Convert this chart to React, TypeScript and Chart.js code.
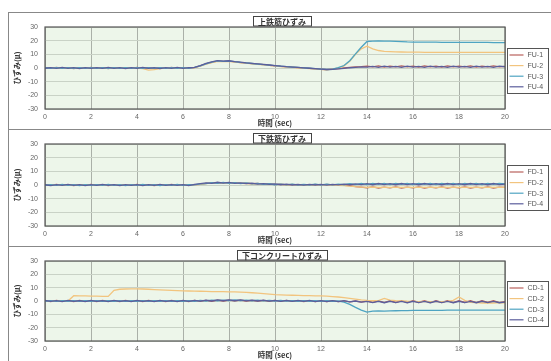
import React, { useEffect, useRef } from 'react';
import { Chart, registerables } from 'chart.js';
Chart.register(...registerables);

// time axis (sec), 0.25 s steps
const time = [
  0, 0.25, 0.5, 0.75, 1, 1.25, 1.5, 1.75,
  2, 2.25, 2.5, 2.75, 3, 3.25, 3.5, 3.75,
  4, 4.25, 4.5, 4.75, 5, 5.25, 5.5, 5.75,
  6, 6.25, 6.5, 6.75, 7, 7.25, 7.5, 7.75,
  8, 8.25, 8.5, 8.75, 9, 9.25, 9.5, 9.75,
  10, 10.25, 10.5, 10.75, 11, 11.25, 11.5, 11.75,
  12, 12.25, 12.5, 12.75, 13, 13.25, 13.5, 13.75,
  14, 14.25, 14.5, 14.75, 15, 15.25, 15.5, 15.75,
  16, 16.25, 16.5, 16.75, 17, 17.25, 17.5, 17.75,
  18, 18.25, 18.5, 18.75, 19, 19.25, 19.5, 19.75,
  20,
];

const xTicks = [0, 2, 4, 6, 8, 10, 12, 14, 16, 18, 20];
const yTicks = [-30, -20, -10, 0, 10, 20, 30];

// ---- 上鉄筋ひずみ ----
const fuLabels = ['FU-1', 'FU-2', 'FU-3', 'FU-4'];
const fu1 = [
  0.3, -0.3, 0.4, -0.2, 0.3, -0.4, 0.2, -0.3,
  0.4, -0.2, 0.3, -0.4, 0.2, -0.3, 0.3, -0.2,
  0.4, -0.3, 0.2, -0.4, 0.3, -0.2, 0.4, -0.3,
  0.2, -0.3, 0.3, 1.5, 3.0, 4.2, 5.0, 4.8,
  5.0, 4.5, 4.0, 3.6, 3.2, 2.8, 2.4, 2.0,
  1.6, 1.2, 0.9, 0.6, 0.3, 0.0, -0.3, -0.6,
  -0.9, -1.2, -0.8, -0.4, 0.0, 0.4, 0.8, 1.0,
  1.4, 0.8, 1.5, 0.7, 1.4, 0.8, 1.5, 0.8,
  1.4, 0.7, 1.5, 0.8, 1.4, 0.7, 1.5, 0.8,
  1.4, 0.8, 1.5, 0.7, 1.4, 0.8, 1.5, 0.8,
  1.2,
];
const fu2 = [
  0.1, -0.2, 0.2, -0.1, 0.1, -0.2, 0.1, -0.1,
  0.2, -0.1, 0.1, -0.2, 0.1, -0.1, 0.2, -0.1,
  0.0, -0.5, -1.5, -1.2, -0.5, -0.1, 0.1, -0.1,
  0.1, -0.1, 0.2, 1.4, 2.8, 4.0, 4.8, 4.6,
  4.8, 4.3, 3.9, 3.5, 3.1, 2.7, 2.3, 1.9,
  1.5, 1.1, 0.8, 0.5, 0.2, -0.1, -0.4, -0.7,
  -1.0, -1.3, -0.9, 0.0, 1.5, 5.0, 10.0, 14.0,
  16.0, 14.0, 12.8, 12.2, 12.0, 11.8, 11.7, 11.6,
  11.6, 11.6, 11.5, 11.5, 11.5, 11.5, 11.5, 11.5,
  11.5, 11.5, 11.4, 11.4, 11.4, 11.4, 11.4, 11.4,
  11.4,
];
const fu3 = [
  0.2, -0.2, 0.3, -0.3, 0.2, -0.2, 0.3, -0.3,
  0.2, -0.2, 0.3, -0.3, 0.2, -0.2, 0.3, -0.3,
  0.2, -0.2, 0.3, -0.3, 0.2, -0.2, 0.3, -0.3,
  0.2, -0.2, 0.4, 1.6, 3.1, 4.3, 5.2, 4.9,
  5.1, 4.6, 4.1, 3.7, 3.3, 2.9, 2.5, 2.1,
  1.7, 1.3, 1.0, 0.7, 0.4, 0.1, -0.2, -0.5,
  -0.8, -1.1, -0.9, 0.2, 1.8, 5.3, 10.3, 15.2,
  19.4, 19.7, 19.8, 19.7, 19.6, 19.5, 19.3, 19.1,
  19.0, 19.0, 18.9, 18.9, 18.9, 18.8, 18.8, 18.8,
  18.8, 18.8, 18.7, 18.7, 18.7, 18.7, 18.6, 18.6,
  18.5,
];
const fu4 = [
  -0.2, 0.3, -0.3, 0.4, -0.2, 0.3, -0.4, 0.2,
  -0.3, 0.3, -0.2, 0.4, -0.3, 0.2, -0.4, 0.3,
  -0.2, 0.4, -0.3, 0.2, -0.4, 0.3, -0.2, 0.4,
  -0.3, 0.2, 0.5, 1.8, 3.3, 4.5, 5.4, 5.0,
  5.3, 4.7, 4.3, 3.8, 3.4, 3.0, 2.6, 2.2,
  1.8, 1.4, 1.0, 0.7, 0.4, 0.1, -0.2, -0.5,
  -0.8, -1.1, -1.0, -0.6, -0.2, 0.2, 0.5, 0.8,
  0.6, 1.2, 0.5, 1.3, 0.6, 1.2, 0.5, 1.3,
  0.6, 1.2, 0.5, 1.3, 0.6, 1.2, 0.5, 1.3,
  0.6, 1.2, 0.5, 1.3, 0.6, 1.2, 0.5, 1.3,
  0.9,
];

// ---- 下鉄筋ひずみ ----
const fdLabels = ['FD-1', 'FD-2', 'FD-3', 'FD-4'];
const fd1 = [
  0.3, -0.3, 0.4, -0.2, 0.3, -0.4, 0.2, -0.3,
  0.4, -0.2, 0.3, -0.4, 0.2, -0.3, 0.3, -0.2,
  0.4, -0.3, 0.2, -0.4, 0.3, -0.2, 0.4, -0.3,
  0.2, -0.3, 0.3, 0.4, 1.2, 1.6, 1.3, 1.8,
  1.4, 1.7, 1.2, 1.4, 0.9, 1.2, 0.6, 0.9,
  0.3, 0.6, 0.0, 0.4, -0.2, 0.3, -0.1, 0.4,
  -0.1, 0.4, 0.0, 0.3, -0.3, -0.5, -1.2, -1.6,
  -2.0, -1.4, -2.2, -1.5, -2.1, -1.4, -2.2, -1.5,
  -2.1, -1.4, -2.2, -1.5, -2.1, -1.4, -2.2, -1.5,
  -2.1, -1.4, -2.2, -1.5, -2.1, -1.4, -2.2, -1.5,
  -1.8,
];
const fd2 = [
  0.1, -0.1, 0.2, -0.1, 0.1, -0.2, 0.1, -0.1,
  0.2, -0.1, 0.1, -0.2, 0.1, -0.1, 0.2, -0.1,
  0.1, -0.2, 0.1, -0.1, 0.2, -0.1, 0.1, -0.2,
  0.1, -0.1, 0.2, 0.5, 1.0, 1.4, 1.5, 1.6,
  1.5, 1.4, 1.2, 1.1, 0.9, 0.8, 0.6, 0.5,
  0.4, 0.3, 0.2, 0.2, 0.1, 0.1, 0.0, 0.0,
  0.0, 0.0, -0.1, -0.2, -0.4, -0.8, -1.2, -1.5,
  -1.7, -1.6, -1.8, -1.7, -1.8, -1.7, -1.8, -1.7,
  -1.8, -1.7, -1.8, -1.7, -1.8, -1.7, -1.8, -1.7,
  -1.8, -1.7, -1.8, -1.7, -1.8, -1.7, -1.8, -1.7,
  -1.7,
];
const fd3 = [
  -0.2, 0.3, -0.3, 0.4, -0.2, 0.3, -0.4, 0.2,
  -0.3, 0.3, -0.2, 0.4, -0.3, 0.2, -0.4, 0.3,
  -0.2, 0.4, -0.3, 0.2, -0.4, 0.3, -0.2, 0.4,
  -0.3, 0.2, 0.1, 0.8, 1.0, 1.7, 1.2, 1.9,
  1.2, 1.8, 1.0, 1.5, 0.8, 1.2, 0.5, 0.9,
  0.2, 0.7, 0.1, 0.6, 0.0, 0.5, 0.0, 0.6,
  0.0, 0.6, 0.1, 0.7, 0.2, 0.9, 0.3, 1.1,
  0.3, 1.2, 0.4, 1.2, 0.3, 1.2, 0.4, 1.2,
  0.3, 1.2, 0.4, 1.2, 0.3, 1.2, 0.4, 1.2,
  0.3, 1.2, 0.4, 1.2, 0.3, 1.2, 0.4, 1.2,
  0.8,
];
const fd4 = [
  0.2, -0.4, 0.3, -0.3, 0.4, -0.2, 0.3, -0.4,
  0.2, -0.3, 0.4, -0.2, 0.3, -0.4, 0.2, -0.3,
  0.3, -0.4, 0.2, -0.3, 0.4, -0.2, 0.3, -0.3,
  0.2, -0.4, 0.4, 1.0, 1.5, 1.2, 2.0, 1.4,
  1.9, 1.2, 1.6, 1.0, 1.3, 0.7, 1.0, 0.4,
  0.8, 0.2, 0.6, 0.0, 0.5, -0.1, 0.5, 0.0,
  0.4, -0.1, 0.5, 0.1, 0.6, 0.2, 0.8, 0.3,
  1.0, 0.2, 1.1, 0.3, 1.0, 0.2, 1.1, 0.3,
  1.0, 0.2, 1.1, 0.3, 1.0, 0.2, 1.1, 0.3,
  1.0, 0.2, 1.1, 0.3, 1.0, 0.2, 1.1, 0.3,
  0.6,
];

// ---- 下コンクリートひずみ ----
const cdLabels = ['CD-1', 'CD-2', 'CD-3', 'CD-4'];
const cd1 = [
  0.3, -0.4, 0.4, -0.3, 0.3, -0.5, 0.4, -0.3,
  0.3, -0.4, 0.4, -0.3, 0.3, -0.5, 0.4, -0.3,
  0.3, -0.4, 0.4, -0.3, 0.3, -0.5, 0.4, -0.3,
  0.3, -0.4, 0.4, -0.2, 0.5, -0.2, 0.6, 0.0,
  0.7, 0.1, 0.6, 0.0, 0.5, -0.1, 0.5, -0.2,
  0.4, -0.3, 0.4, -0.3, 0.3, -0.4, 0.3, -0.4,
  0.3, -0.4, 0.2, -0.5, 0.1, -0.6, 0.0, -0.8,
  0.0, -1.0, 0.1, -1.2, 0.2, -1.1, 0.3, -1.2,
  0.2, -1.1, 0.3, -1.2, 0.2, -1.1, 0.3, -1.2,
  0.2, -1.1, 0.3, -1.2, 0.2, -1.1, 0.3, -1.2,
  -0.4,
];
const cd2 = [
  0.0, -0.1, 0.1, 0.0, 0.0, 4.0, 3.9, 3.8,
  3.7, 3.6, 3.5, 3.4, 8.0, 8.8, 9.0, 9.1,
  9.1, 9.0, 8.8, 8.6, 8.4, 8.2, 8.0, 7.8,
  7.6, 7.5, 7.4, 7.3, 7.2, 7.1, 7.0, 7.0,
  6.9, 6.8, 6.7, 6.5, 6.2, 5.9, 5.6, 5.2,
  4.8, 4.6, 4.4, 4.3, 4.2, 4.1, 4.0, 3.9,
  3.8, 3.6, 3.3, 3.0, 2.6, 2.0, 1.4, 0.8,
  0.4, 0.2, 0.3, 2.0, 0.6, 0.2, 0.0, -0.2,
  -0.3, -0.4, -0.3, -0.5, -0.4, -0.5, -0.3, 0.5,
  3.0, 0.5, -1.0, -1.2, -1.5, -1.3, -1.5, -1.2,
  -1.3,
];
const cd3 = [
  -0.2, 0.3, -0.3, 0.2, -0.2, 0.3, -0.3, 0.2,
  -0.2, 0.3, -0.3, 0.2, -0.2, 0.3, -0.3, 0.2,
  -0.2, 0.3, -0.3, 0.2, -0.2, 0.3, -0.3, 0.2,
  -0.2, 0.3, -0.2, 0.4, 0.0, 0.6, 0.2, 0.7,
  0.3, 0.8, 0.3, 0.7, 0.2, 0.6, 0.1, 0.5,
  0.0, 0.4, -0.1, 0.3, -0.2, 0.3, -0.2, 0.2,
  -0.3, 0.2, -0.3, 0.0, -0.8, -2.5, -4.8, -6.8,
  -8.4, -7.6, -7.4, -7.6, -7.4, -7.3, -7.2, -7.2,
  -7.1, -7.1, -7.0, -7.0, -7.0, -7.0, -6.9, -6.9,
  -6.9, -6.9, -6.9, -6.8, -6.8, -6.8, -6.8, -6.8,
  -6.8,
];
const cd4 = [
  0.4, -0.3, 0.3, -0.4, 0.4, -0.3, 0.3, -0.4,
  0.4, -0.3, 0.3, -0.4, 0.4, -0.3, 0.3, -0.4,
  0.4, -0.3, 0.3, -0.4, 0.4, -0.3, 0.3, -0.4,
  0.4, -0.3, 0.5, -0.1, 0.7, 0.0, 0.8, 0.2,
  0.9, 0.2, 0.8, 0.1, 0.7, 0.0, 0.6, -0.1,
  0.5, -0.2, 0.5, -0.3, 0.4, -0.3, 0.4, -0.4,
  0.3, -0.4, 0.3, -0.4, 0.2, -0.6, 0.0, -0.9,
  -0.3, -1.2, -0.2, -1.3, -0.2, -1.2, -0.3, -1.3,
  -0.2, -1.2, -0.3, -1.3, -0.2, -1.2, -0.3, -1.3,
  -0.2, -1.2, -0.3, -1.3, -0.2, -1.2, -0.3, -1.3,
  -0.8,
];

const seriesColors = ['#b9605c', '#f2c47e', '#4ea4c2', '#5b5e9c'];

const panels = [
  { title: '上鉄筋ひずみ', labels: fuLabels, series: [fu1, fu2, fu3, fu4], top: 12, height: 116 },
  { title: '下鉄筋ひずみ', labels: fdLabels, series: [fd1, fd2, fd3, fd4], top: 129, height: 116 },
  { title: '下コンクリートひずみ', labels: cdLabels, series: [cd1, cd2, cd3, cd4], top: 246, height: 114 },
];

const numFont = "'Liberation Sans', 'DejaVu Sans', sans-serif";
const jpFont = "'Noto Sans CJK JP', 'Noto Sans', sans-serif";

const decorPlugin = {
  id: 'panelDecor',
  beforeDraw(chart: any) {
    const { ctx, chartArea: a } = chart;
    ctx.save();
    ctx.fillStyle = '#edf6ea';
    ctx.fillRect(a.left, a.top, a.right - a.left, a.bottom - a.top);
    ctx.restore();
  },
  afterDraw(chart: any, _args: any, opts: any) {
    const { ctx, chartArea: a } = chart;
    ctx.save();
    // plot border
    ctx.strokeStyle = '#555';
    ctx.lineWidth = 1.2;
    ctx.strokeRect(a.left, a.top, a.right - a.left, a.bottom - a.top);

    // title box
    const title = opts.title || '';
    ctx.font = `bold 8px ${jpFont}`;
    const tw = ctx.measureText(title).width;
    const cx = (a.left + a.right) / 2 + 7;
    const bw = tw + 10;
    const bx = Math.round(cx - bw / 2) + 0.5;
    ctx.fillStyle = '#fff';
    ctx.fillRect(bx, 3.5, bw, 9.5);
    ctx.strokeStyle = '#444';
    ctx.lineWidth = 1;
    ctx.strokeRect(bx, 3.5, bw, 9.5);
    ctx.fillStyle = '#333';
    ctx.textAlign = 'center';
    ctx.textBaseline = 'middle';
    ctx.fillText(title, cx, 8.5);

    // legend box
    const lx = Math.round(a.right + 2) + 0.5;
    const lw = 41;
    const lh = 45;
    const ly = Math.round((a.top + a.bottom) / 2 + 2 - lh / 2) + 0.5;
    ctx.fillStyle = '#fff';
    ctx.fillRect(lx, ly, lw, lh);
    ctx.strokeStyle = '#555';
    ctx.strokeRect(lx, ly, lw, lh);
    ctx.textAlign = 'left';
    ctx.font = `7px ${numFont}`;
    chart.data.datasets.forEach((ds: any, i: number) => {
      const y = ly + 6.5 + i * 10.6;
      ctx.strokeStyle = ds.borderColor;
      ctx.lineWidth = 1.2;
      ctx.beginPath();
      ctx.moveTo(lx + 2, y);
      ctx.lineTo(lx + 16, y);
      ctx.stroke();
      ctx.fillStyle = '#555';
      ctx.fillText(ds.label, lx + 20, y + 0.5);
    });
    ctx.restore();
  },
};

function PanelChart({ panel }: { panel: any }) {
  const ref = useRef<HTMLCanvasElement>(null);
  useEffect(() => {
    if (!ref.current) return;
    const chart = new Chart(ref.current, {
      type: 'line',
      data: {
        datasets: panel.series.map((vals: number[], i: number) => ({
          label: panel.labels[i],
          data: time.map((t, j) => ({ x: t, y: vals[j] })),
          borderColor: seriesColors[i],
          backgroundColor: seriesColors[i],
          borderWidth: 1.3,
          pointRadius: 0,
          tension: 0,
          order: 3 - i,
        })),
      },
      options: {
        animation: false,
        responsive: false,
        maintainAspectRatio: false,
        layout: { padding: { left: 0, right: 46, top: 14, bottom: 0 } },
        plugins: {
          legend: { display: false },
          tooltip: { enabled: false },
          panelDecor: { title: panel.title },
        } as any,
        scales: {
          x: {
            type: 'linear',
            min: 0,
            max: 20,
            afterBuildTicks: (s: any) => {
              s.ticks = xTicks.map((v) => ({ value: v }));
            },
            afterFit: (s: any) => {
              s.height = panel.height - 96 + (panel.height === 114 ? 2 : 0);
            },
            grid: { color: '#aab0a8', lineWidth: 1, drawTicks: false },
            border: { display: false },
            ticks: { padding: 4, maxRotation: 0, color: '#666', font: { size: 7, family: numFont } },
            title: {
              display: true,
              text: '時間 (sec)',
              color: '#333',
              font: { size: 7.5, weight: 'bold', family: jpFont },
              padding: { top: 0, bottom: 1 },
            },
          },
          y: {
            min: -30,
            max: 30,
            afterBuildTicks: (s: any) => {
              s.ticks = yTicks.map((v) => ({ value: v }));
            },
            afterFit: (s: any) => {
              s.width = 36;
            },
            grid: { color: '#c9d2c6', lineWidth: 1, drawTicks: false },
            border: { display: false },
            ticks: { padding: 7, color: '#666', font: { size: 7, family: numFont } },
            title: {
              display: true,
              text: 'ひずみ(μ)',
              color: '#333',
              font: { size: 7.5, weight: 'bold', family: jpFont },
              padding: { top: 4, bottom: 0 },
            },
          },
        },
      } as any,
      plugins: [decorPlugin],
    });
    return () => chart.destroy();
  }, [panel]);
  return <canvas ref={ref} width={542} height={panel.height} style={{ display: 'block' }} />;
}

export default function App() {
  return (
    <div
      style={{
        position: 'fixed',
        left: 0,
        top: 0,
        width: 551,
        height: 361,
        overflow: 'hidden',
        background: '#fff',
      }}
    >
      {panels.map((p) => (
        <div
          key={p.title}
          style={{
            position: 'absolute',
            left: 8,
            top: p.top,
            width: 543,
            borderTop: '1px solid #888',
            borderLeft: '1px solid #888',
          }}
        >
          <PanelChart panel={p} />
        </div>
      ))}
    </div>
  );
}
